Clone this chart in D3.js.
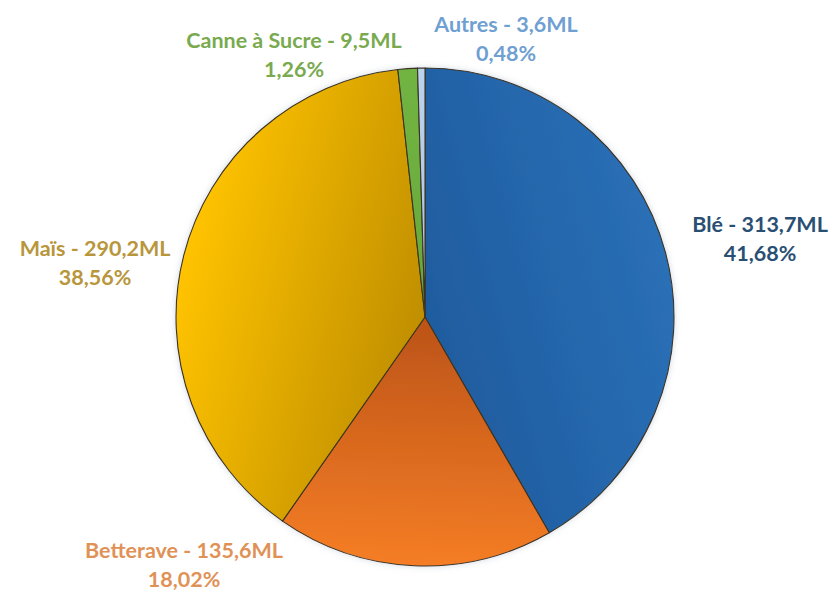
<!DOCTYPE html>
<html>
<head>
<meta charset="utf-8">
<script src="https://cdn.jsdelivr.net/npm/d3@7"></script>
<style>
  html, body { margin: 0; padding: 0; background: #ffffff; }
  svg { display: block; }
  text { font-family: Lato, "Open Sans", "Noto Sans", sans-serif; font-weight: 700; }
</style>
</head>
<body>
<svg id="chart" width="830" height="590"></svg>
<script>
// ---- Data ----
const categories = ["Blé", "Betterave", "Maïs", "Canne à Sucre", "Autres"];
const volumesML = [313.7, 135.6, 290.2, 9.5, 3.6];

// ---- Styles ----
const darkColors   = ["#1f5c9f", "#bb5318", "#c08f00", "#66a83a", "#a9c4e4"];
const brightColors = ["#2a6fb6", "#f57d25", "#ffc300", "#72b443", "#bcd3ee"];
const labelColors  = ["#2a4f74", "#e09256", "#b8963c", "#79aa4f", "#6fa0d2"];
// label block centres relative to pie centre (layout)
const labelOffset = [[335, -81], [-241, 245], [-330, -57], [-131, -265], [81, -281]];

const W = 830, H = 590, cx = 425, cy = 317, R = 249;
const svg = d3.select("#chart");
const defs = svg.append("defs");

const shadow = defs.append("filter").attr("id", "shadow")
  .attr("x", "-20%").attr("y", "-20%").attr("width", "140%").attr("height", "140%");
shadow.append("feDropShadow").attr("dx", 0).attr("dy", 0)
  .attr("stdDeviation", 3).attr("flood-color", "#8090a8").attr("flood-opacity", 0.35);

const data = categories.map((c, i) => ({ name: c, value: volumesML[i], i }));
const total = d3.sum(volumesML);

const pie = d3.pie().value(d => d.value).sort(null);
const arc = d3.arc().innerRadius(0).outerRadius(R);
const arcs = pie(data);

// gradients along each slice bisector: dark at centre, bright at rim
arcs.forEach((a, i) => {
  const mid = (a.startAngle + a.endAngle) / 2;
  const [ex, ey] = d3.pointRadial(mid, R);
  const g = defs.append("linearGradient").attr("id", "grad" + i)
    .attr("gradientUnits", "userSpaceOnUse")
    .attr("x1", 0).attr("y1", 0).attr("x2", ex).attr("y2", ey);
  g.append("stop").attr("offset", "0%").attr("stop-color", darkColors[i]);
  g.append("stop").attr("offset", "100%").attr("stop-color", brightColors[i]);
});

const g = svg.append("g").attr("transform", `translate(${cx},${cy})`);
g.append("g").attr("filter", "url(#shadow)")
  .selectAll("path").data(arcs).join("path")
  .attr("d", arc)
  .attr("fill", (d, i) => `url(#grad${i})`)
  .attr("stroke", "#3d3320")
  .attr("stroke-width", 1.1)
  .attr("stroke-linejoin", "round");

const fmtNum = v => d3.format(".1f")(v).replace(".", ",");
const fmtPct = v => d3.format(".2f")(v * 100).replace(".", ",") + "%";

const labels = g.selectAll("g.lbl").data(arcs).join("g").attr("class", "lbl")
  .attr("transform", (d, i) => `translate(${labelOffset[i][0]},${labelOffset[i][1]})`);
labels.append("text")
  .attr("text-anchor", "middle").attr("y", -4)
  .attr("font-size", 21.5)
  .attr("fill", (d, i) => labelColors[i])
  .text(d => `${d.data.name} - ${fmtNum(d.data.value)}ML`);
labels.append("text")
  .attr("text-anchor", "middle").attr("y", 24.5)
  .attr("font-size", 21.5)
  .attr("fill", (d, i) => labelColors[i])
  .text(d => fmtPct(d.data.value / total));
</script>
</body>
</html>
